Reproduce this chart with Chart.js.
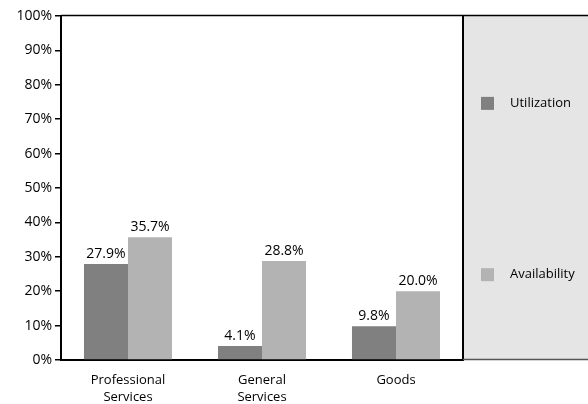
<!DOCTYPE html>
<html lang="en">
<head>
    <meta charset="UTF-8">
    <title>Utilization and Availability</title>
    <style>
        html, body {
            margin: 0;
            padding: 0;
            background-color: #ffffff;
        }

        #wrap {
            width: 588px;
            height: 404px;
        }
    </style>
</head>
<body>
    <div id="wrap"><canvas id="usageChart" width="588" height="404"></canvas></div>

    <script src="https://cdn.jsdelivr.net/npm/chart.js"></script>
    <script>
        // Chart values
        const categories = [['Professional', 'Services'], ['General', 'Services'], ['Goods']];
        const seriesNames = ['Utilization', 'Availability'];
        const utilization = [27.9, 4.1, 9.8];
        const availability = [35.7, 28.8, 20.0];
        const yTicks = [0, 10, 20, 30, 40, 50, 60, 70, 80, 90, 100];

        const FONT = '"Open Sans", sans-serif';
        const panelColor = '#e5e5e5';

        // Grey legend panel on the right plus the frame lines round the plot
        const framePlugin = {
            id: 'frame',
            beforeDraw(chart) {
                const { ctx, chartArea } = chart;
                ctx.save();
                ctx.fillStyle = panelColor;
                ctx.fillRect(chartArea.right, chartArea.top, chart.width - chartArea.right, chartArea.bottom - chartArea.top);
                ctx.restore();
            },
            afterDraw(chart) {
                const { ctx, chartArea } = chart;
                ctx.save();
                ctx.strokeStyle = '#000';
                ctx.lineWidth = 1.5;
                ctx.beginPath();
                ctx.moveTo(chartArea.left, chartArea.top - 0.5);
                ctx.lineTo(chart.width, chartArea.top - 0.5);
                ctx.stroke();

                ctx.lineWidth = 2;
                ctx.beginPath();
                ctx.moveTo(chartArea.right, chartArea.top - 1);
                ctx.lineTo(chartArea.right, chartArea.bottom);
                ctx.stroke();

                ctx.strokeStyle = '#555';
                ctx.lineWidth = 1.5;
                ctx.beginPath();
                ctx.moveTo(chartArea.right, chartArea.bottom - 0.5);
                ctx.lineTo(chart.width, chartArea.bottom - 0.5);
                ctx.stroke();
                ctx.restore();

                // legend entries, spread over the panel height
                const panelH = chartArea.bottom - chartArea.top;
                ctx.save();
                ctx.font = '13px ' + FONT;
                ctx.textBaseline = 'middle';
                ctx.textAlign = 'left';
                chart.data.datasets.forEach((ds, i) => {
                    const y = chartArea.top + panelH * (i === 0 ? 0.254 : 0.752);
                    ctx.fillStyle = ds.backgroundColor;
                    ctx.fillRect(chartArea.right + 18, y - 6.5, 13, 13);
                    ctx.fillStyle = '#000';
                    ctx.fillText(ds.label, chartArea.right + 47, y);
                });
                ctx.restore();
            }
        };

        // Value labels above each bar
        const valueLabels = {
            id: 'valueLabels',
            afterDatasetsDraw(chart) {
                const { ctx } = chart;
                ctx.save();
                ctx.font = '14px ' + FONT;
                ctx.fillStyle = '#000';
                ctx.textAlign = 'center';
                ctx.textBaseline = 'bottom';
                chart.data.datasets.forEach((ds, i) => {
                    chart.getDatasetMeta(i).data.forEach((bar, j) => {
                        ctx.fillText(ds.data[j].toFixed(1) + '%', bar.x, bar.y - 3);
                    });
                });
                ctx.restore();
            }
        };

        const ctx = document.getElementById('usageChart').getContext('2d');
        const chart = new Chart(ctx, {
            type: 'bar',
            data: {
                labels: categories,
                datasets: [{
                    label: seriesNames[0],
                    data: utilization,
                    backgroundColor: '#808080'
                }, {
                    label: seriesNames[1],
                    data: availability,
                    backgroundColor: '#b3b3b3'
                }]
            },
            options: {
                responsive: false,
                animation: false,
                layout: {
                    padding: { top: 16, right: 125, left: 0, bottom: 0 }
                },
                datasets: {
                    bar: {
                        categoryPercentage: 0.657,
                        barPercentage: 1.0
                    }
                },
                plugins: {
                    legend: { display: false },
                    tooltip: { enabled: false }
                },
                scales: {
                    x: {
                        afterFit(scale) { scale.height = 44; },
                        grid: { display: false, drawTicks: false },
                        border: { display: true, color: '#000', width: 2 },
                        ticks: {
                            color: '#000',
                            padding: 12,
                            maxRotation: 0,
                            font: { family: FONT, size: 13, lineHeight: 1.3 }
                        }
                    },
                    y: {
                        min: 0,
                        max: 100,
                        afterFit(scale) { scale.width = 61; },
                        afterBuildTicks(scale) {
                            scale.ticks = yTicks.map(v => ({ value: v }));
                        },
                        grid: {
                            drawOnChartArea: false,
                            drawTicks: true,
                            tickLength: 6,
                            color: '#000',
                            lineWidth: 1.5
                        },
                        border: { display: true, color: '#000', width: 2 },
                        ticks: {
                            color: '#000',
                            padding: 3,
                            font: { family: FONT, size: 14 },
                            callback: v => v + '%'
                        }
                    }
                }
            },
            plugins: [framePlugin, valueLabels]
        });
    </script>
</body>
</html>
